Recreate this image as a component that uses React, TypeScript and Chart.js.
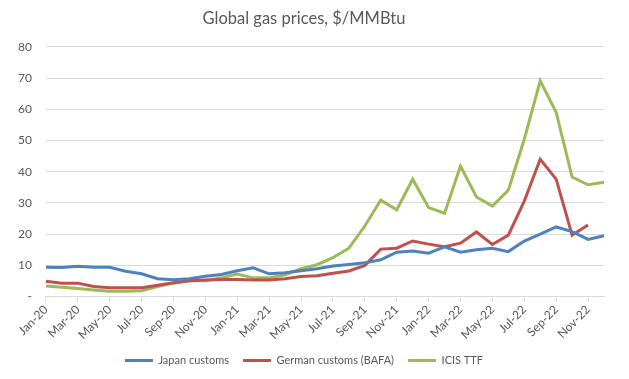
import React, { useEffect, useRef } from "react";
import { Chart, registerables } from "chart.js";

Chart.register(...registerables);

const monthNames = ["Jan", "Feb", "Mar", "Apr", "May", "Jun", "Jul", "Aug", "Sep", "Oct", "Nov", "Dec"];
const years = ["20", "21", "22"];
const categories: string[] = [];
years.forEach((y) => monthNames.forEach((m) => categories.push(`${m}-${y}`)));

const japanCustoms = [
  9.4, 9.3, 9.7, 9.4, 9.4, 8.1, 7.3, 5.7, 5.4, 5.7, 6.5, 7.1,
  8.3, 9.2, 7.3, 7.6, 8.3, 8.9, 9.8, 10.3, 10.8, 11.8, 14.2, 14.6,
  13.9, 15.9, 14.2, 15.0, 15.5, 14.4, 17.8, 20.0, 22.3, 20.8, 18.3, 19.5,
];
const germanCustoms = [
  4.9, 4.3, 4.3, 3.2, 2.8, 2.8, 2.8, 3.6, 4.4, 5.1, 5.3, 5.5,
  5.5, 5.3, 5.3, 5.7, 6.4, 6.7, 7.5, 8.2, 10.0, 15.2, 15.5, 17.8,
  16.8, 16.0, 17.1, 20.7, 16.7, 19.7, 30.6, 44.0, 37.6, 19.7, 22.9, null,
];
const icisTtf = [
  3.4, 3.0, 2.6, 2.1, 1.7, 1.7, 1.9, 3.2, 4.3, 5.1, 5.1, 6.0,
  7.2, 6.0, 6.0, 7.0, 8.9, 10.2, 12.5, 15.5, 22.6, 30.9, 27.8, 37.6,
  28.5, 26.7, 41.8, 31.9, 29.0, 34.1, 50.4, 69.1, 59.0, 38.3, 35.8, 36.6,
];
const seriesNames = ["Japan customs", "German customs (BAFA)", "ICIS TTF"];
const seriesColors = ["#4f81bd", "#c0504d", "#9bbb59"];

const FONT = "Lato, 'Open Sans', sans-serif";
const TEXT = "#595959";
const GRID = "#d9d9d9";

export default function App() {
  const ref = useRef<HTMLCanvasElement | null>(null);

  useEffect(() => {
    if (!ref.current) return;
    const values = [japanCustoms, germanCustoms, icisTtf];
    const chart = new Chart(ref.current, {
      type: "line",
      data: {
        labels: categories,
        datasets: values.map((v, i) => ({
          label: seriesNames[i],
          data: v,
          borderColor: seriesColors[i],
          backgroundColor: seriesColors[i],
          borderWidth: 3,
          pointRadius: 0,
          tension: 0,
          spanGaps: false,
        })),
      },
      options: {
        responsive: false,
        animation: false,
        layout: { padding: { left: 4, right: 25, top: 4, bottom: 3 } },
        plugins: {
          title: {
            display: true,
            text: "Global gas prices, $/MMBtu",
            color: TEXT,
            font: { family: FONT, size: 16.5, weight: "normal" },
            padding: { top: 5, bottom: 18 },
          },
          legend: {
            position: "bottom",
            labels: {
              color: TEXT,
              font: { family: FONT, size: 11 },
              boxWidth: 28,
              boxHeight: 3,
              padding: 14,
              generateLabels: (c: any) =>
                c.data.datasets.map((d: any, i: number) => ({
                  text: d.label,
                  fillStyle: d.borderColor,
                  strokeStyle: d.borderColor,
                  lineWidth: 0,
                  datasetIndex: i,
                  fontColor: TEXT,
                })),
            },
          },
          tooltip: { enabled: false },
        },
        scales: {
          x: {
            grid: {
              display: true,
              drawOnChartArea: false,
              drawTicks: true,
              tickLength: 5,
              color: GRID,
            },
            border: { display: true, color: GRID },
            ticks: {
              autoSkip: false,
              minRotation: 45,
              maxRotation: 45,
              color: TEXT,
              font: { family: FONT, size: 12 },
              padding: 1,
              callback: (_v: any, i: number) => (i % 2 === 0 ? categories[i] : null),
            },
            afterFit: (scale: any) => {
              scale.height -= 2;
            },
          },
          y: {
            min: 0,
            max: 80,
            grid: { color: GRID, drawTicks: false },
            border: { display: false },
            ticks: {
              stepSize: 10,
              color: TEXT,
              font: { family: FONT, size: 12 },
              padding: 14,
              callback: (v: any) => (v === 0 ? "-" : String(v)),
            },
          },
        },
      },
    });
    return () => chart.destroy();
  }, []);

  return (
    <div style={{ position: "fixed", left: 0, top: 0, width: 629, height: 379, background: "#fff" }}>
      <canvas ref={ref} width={629} height={379} />
    </div>
  );
}
